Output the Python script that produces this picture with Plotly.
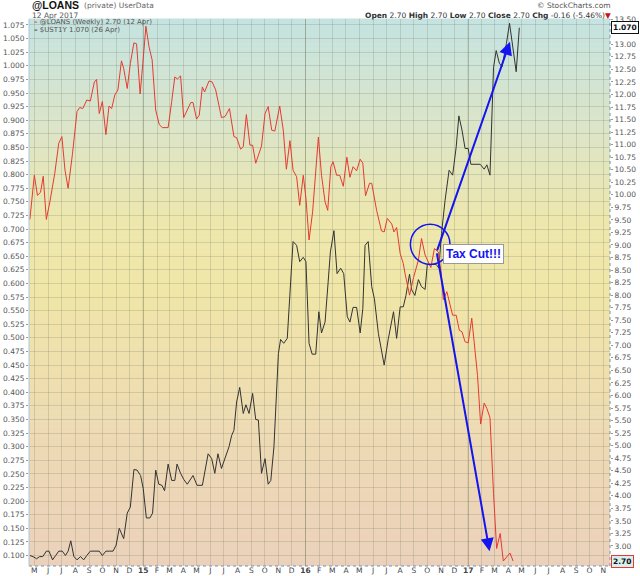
import pandas as pd
import plotly.graph_objects as go

# @LOANS weekly (right axis)
loans_dates = [
    "2014-04-21", "2014-05-01", "2014-05-08", "2014-05-15", "2014-05-21", "2014-05-28",
    "2014-06-05", "2014-06-16", "2014-06-25", "2014-07-02", "2014-07-09", "2014-07-16",
    "2014-07-26", "2014-08-05", "2014-08-11", "2014-08-18", "2014-08-27", "2014-09-04",
    "2014-09-13", "2014-09-18", "2014-09-24", "2014-10-01", "2014-10-09", "2014-10-16",
    "2014-10-22", "2014-10-29", "2014-11-05", "2014-11-13", "2014-11-18", "2014-11-26",
    "2014-12-03", "2014-12-11", "2014-12-17", "2014-12-25", "2014-12-31", "2015-01-07",
    "2015-01-14", "2015-01-21", "2015-01-29", "2015-02-06", "2015-02-13", "2015-02-26",
    "2015-03-06", "2015-03-13", "2015-03-19", "2015-03-26", "2015-04-02", "2015-04-10",
    "2015-04-18", "2015-04-23", "2015-05-01", "2015-05-07", "2015-05-14", "2015-05-19",
    "2015-05-29", "2015-06-05", "2015-06-13", "2015-06-26", "2015-07-04", "2015-07-14",
    "2015-07-24", "2015-07-30", "2015-08-08", "2015-08-14", "2015-08-21", "2015-08-29",
    "2015-09-04", "2015-09-11", "2015-09-24", "2015-10-02", "2015-10-09", "2015-10-17",
    "2015-10-24", "2015-11-04", "2015-11-12", "2015-11-19", "2015-11-27", "2015-12-04",
    "2015-12-12", "2015-12-19", "2015-12-27", "2016-01-02", "2016-01-09", "2016-01-17",
    "2016-01-30", "2016-02-06", "2016-02-14", "2016-02-20", "2016-02-27", "2016-03-03",
    "2016-03-11", "2016-03-18", "2016-03-26", "2016-04-03", "2016-04-10", "2016-04-17",
    "2016-04-25", "2016-05-03", "2016-05-09", "2016-05-15", "2016-05-24", "2016-05-29",
    "2016-06-09", "2016-06-20", "2016-06-26", "2016-07-03", "2016-07-13", "2016-07-18",
    "2016-07-24", "2016-08-01", "2016-08-08", "2016-08-12", "2016-08-22", "2016-08-31",
    "2016-09-11", "2016-09-18", "2016-09-26", "2016-10-09", "2016-10-17", "2016-10-26",
    "2016-11-01", "2016-11-06", "2016-11-14", "2016-11-27", "2016-12-05", "2016-12-12",
    "2016-12-18", "2016-12-25", "2017-01-01", "2017-01-09", "2017-01-16", "2017-01-22",
    "2017-01-29", "2017-02-06", "2017-02-12", "2017-02-19", "2017-02-27", "2017-03-06",
    "2017-03-14", "2017-03-21", "2017-04-05", "2017-04-12",
]
loans_vals = [
    9.51, 10.39, 9.99, 10.05, 10.37, 9.51,
    9.86, 10.43, 11.03, 11.16, 10.49, 10.13,
    10.83, 11.66, 11.74, 11.72, 11.89, 11.87,
    12.25, 12.30, 11.62, 11.86, 11.20, 11.77,
    11.72, 11.99, 12.09, 12.67, 12.52, 12.12,
    12.62, 13.03, 13.01, 12.01, 12.62, 13.36,
    12.95, 12.69, 11.69, 11.40, 11.34, 11.34,
    11.86, 12.35, 12.31, 12.37, 11.54, 11.69,
    11.84, 11.84, 11.51, 11.59, 12.15, 12.05,
    12.27, 12.25, 12.09, 11.54, 11.56, 11.72,
    11.16, 11.14, 10.91, 10.96, 11.60, 10.99,
    10.99, 10.63, 10.97, 11.62, 11.76, 11.29,
    11.27, 11.77, 11.29, 10.51, 11.08, 10.49,
    10.36, 9.79, 10.39, 9.93, 9.10, 9.66,
    11.15, 10.39, 9.86, 9.69, 10.56, 10.66,
    10.39, 10.39, 10.17, 10.75, 10.35, 10.56,
    10.48, 10.71, 10.63, 9.98, 10.23, 10.23,
    9.69, 9.28, 9.26, 9.53, 9.42, 9.26,
    9.35, 8.83, 8.63, 8.43, 8.00, 8.35,
    8.70, 9.13, 8.80, 8.55, 8.93, 8.86,
    8.45, 7.91, 8.07, 7.60, 7.60, 7.30,
    7.27, 7.07, 7.05, 7.54, 6.90, 6.40,
    5.43, 5.85, 5.74, 5.56, 4.05, 2.95,
    3.25, 2.70, 2.86, 2.70,
]

# $UST1Y (left axis)
ust_dates = [
    "2014-04-21", "2014-04-28", "2014-05-06", "2014-05-13", "2014-05-20", "2014-05-28",
    "2014-06-03", "2014-06-11", "2014-06-18", "2014-06-25", "2014-07-03", "2014-07-10",
    "2014-07-16", "2014-07-22", "2014-07-29", "2014-08-05", "2014-08-13", "2014-08-20",
    "2014-08-27", "2014-09-04", "2014-09-14", "2014-09-24", "2014-10-01", "2014-10-09",
    "2014-10-18", "2014-10-25", "2014-11-01", "2014-11-08", "2014-11-18", "2014-11-26",
    "2014-12-03", "2014-12-11", "2014-12-18", "2014-12-26", "2015-01-01", "2015-01-08",
    "2015-01-16", "2015-01-22", "2015-01-29", "2015-02-05", "2015-02-12", "2015-02-18",
    "2015-02-26", "2015-03-06", "2015-03-13", "2015-03-18", "2015-03-26", "2015-04-02",
    "2015-04-10", "2015-04-16", "2015-04-23", "2015-05-02", "2015-05-14", "2015-05-27",
    "2015-06-04", "2015-06-11", "2015-06-18", "2015-06-26", "2015-07-07", "2015-07-13",
    "2015-07-19", "2015-07-24", "2015-07-30", "2015-08-06", "2015-08-14", "2015-08-20",
    "2015-08-27", "2015-09-04", "2015-09-11", "2015-09-17", "2015-09-24", "2015-10-02",
    "2015-10-09", "2015-10-15", "2015-10-22", "2015-11-01", "2015-11-06", "2015-11-13",
    "2015-11-21", "2015-11-27", "2015-12-04", "2015-12-12", "2015-12-19", "2015-12-27",
    "2016-01-02", "2016-01-09", "2016-01-16", "2016-01-24", "2016-01-31", "2016-02-06",
    "2016-02-14", "2016-02-21", "2016-02-26", "2016-03-05", "2016-03-12", "2016-03-20",
    "2016-03-27", "2016-04-04", "2016-04-10", "2016-04-17", "2016-04-25", "2016-05-03",
    "2016-05-09", "2016-05-14", "2016-05-21", "2016-05-29", "2016-06-04", "2016-06-13",
    "2016-06-26", "2016-07-05", "2016-07-17", "2016-07-24", "2016-08-01", "2016-08-08",
    "2016-08-14", "2016-08-22", "2016-08-27", "2016-09-03", "2016-09-11", "2016-09-18",
    "2016-09-26", "2016-10-01", "2016-10-13", "2016-10-21", "2016-10-27", "2016-11-02",
    "2016-11-10", "2016-11-19", "2016-11-27", "2016-12-05", "2016-12-11", "2016-12-18",
    "2016-12-25", "2017-01-01", "2017-01-07", "2017-01-16", "2017-01-28", "2017-02-06",
    "2017-02-12", "2017-02-19", "2017-02-27", "2017-03-05", "2017-03-12", "2017-03-18",
    "2017-03-23", "2017-03-28", "2017-04-04", "2017-04-11", "2017-04-19", "2017-04-26",
]
ust_vals = [
    0.100, 0.098, 0.094, 0.098, 0.098, 0.108,
    0.108, 0.092, 0.100, 0.108, 0.108, 0.100,
    0.108, 0.127, 0.098, 0.092, 0.098, 0.092,
    0.100, 0.108, 0.108, 0.108, 0.100, 0.108,
    0.108, 0.108, 0.119, 0.150, 0.131, 0.178,
    0.189, 0.258, 0.257, 0.247, 0.223, 0.169,
    0.169, 0.178, 0.257, 0.231, 0.229, 0.219,
    0.268, 0.238, 0.238, 0.268, 0.251, 0.240,
    0.231, 0.238, 0.247, 0.229, 0.229, 0.287,
    0.278, 0.251, 0.287, 0.260, 0.287, 0.300,
    0.321, 0.330, 0.382, 0.409, 0.361, 0.377,
    0.361, 0.398, 0.350, 0.349, 0.251, 0.278,
    0.231, 0.238, 0.300, 0.471, 0.497, 0.490,
    0.499, 0.575, 0.677, 0.670, 0.640, 0.648,
    0.640, 0.490, 0.470, 0.470, 0.548, 0.509,
    0.529, 0.603, 0.658, 0.697, 0.618, 0.628,
    0.618, 0.539, 0.529, 0.556, 0.556, 0.509,
    0.554, 0.670, 0.677, 0.594, 0.572, 0.508,
    0.450, 0.497, 0.548, 0.499, 0.557, 0.557,
    0.578, 0.617, 0.588, 0.578, 0.607, 0.594,
    0.589, 0.635, 0.635, 0.635, 0.628, 0.692,
    0.753, 0.808, 0.799, 0.851, 0.908, 0.882,
    0.848, 0.848, 0.819, 0.819, 0.819, 0.810,
    0.818, 0.799, 0.997, 1.028, 1.005, 0.998,
    1.017, 1.041, 1.078, 1.035, 0.989, 1.070,
]

month_letters = ["J", "F", "M", "A", "M", "J", "J", "A", "S", "O", "N", "D"]
tick_dates = pd.date_range("2014-05-01", "2017-11-01", freq="MS")
tick_text = ["<b>%s</b>" % d.strftime("%y") if d.month == 1 else month_letters[d.month - 1]
             for d in tick_dates]
year_starts = ["2015-01-01", "2016-01-01", "2017-01-01"]

RED = "#e63a30"
BLACK = "#333333"
BLUE = "#1414f0"
GRID = "rgba(110,115,90,0.22)"

# plot area in pixels (left, right, top, bottom)
PL, PR, PT, PB = 29.3, 610.0, 19.0, 565.7


def px(x, y):
    return (x - PL) / (PR - PL), (PB - y) / (PB - PT)


fig = go.Figure()
fig.add_trace(go.Scatter(x=ust_dates, y=ust_vals, mode="lines", yaxis="y",
                         line=dict(color=BLACK, width=1), name="$UST1Y"))
fig.add_trace(go.Scatter(x=loans_dates, y=loans_vals, mode="lines", yaxis="y2",
                         line=dict(color=RED, width=1), name="@LOANS"))

# vertical background gradient teal -> yellow -> peach
stops = [(0.0, (235, 209, 187)), (0.28, (238, 220, 178)), (0.5, (240, 230, 168)),
         (0.62, (238, 231, 172)), (0.8, (220, 229, 200)), (1.0, (196, 227, 225))]
shapes = []
N = 110
for i in range(N):
    t = (i + 0.5) / N
    for (a, ca), (b, cb) in zip(stops[:-1], stops[1:]):
        if a <= t <= b:
            f = (t - a) / (b - a)
            c = tuple(int(round(ca[k] + (cb[k] - ca[k]) * f)) for k in range(3))
            break
    shapes.append(dict(type="rect", xref="paper", yref="paper", x0=0, x1=1,
                       y0=i / N, y1=(i + 1) / N + 0.001, layer="below",
                       line=dict(width=0), fillcolor="rgb(%d,%d,%d)" % c))
for d in year_starts:
    shapes.append(dict(type="line", xref="x", yref="paper", x0=d, x1=d, y0=0, y1=1,
                       layer="below", line=dict(color="rgba(100,110,80,0.35)", width=1)))
# frame
shapes.append(dict(type="line", xref="paper", yref="paper", x0=0, x1=1, y0=0, y1=0,
                   line=dict(color="#6f93b0", width=1, dash="dot")))
shapes.append(dict(type="line", xref="paper", yref="paper", x0=1, x1=1, y0=0, y1=1,
                   line=dict(color="#6f93b0", width=1, dash="dot")))
shapes.append(dict(type="line", xref="paper", yref="paper", x0=0, x1=0, y0=0, y1=1,
                   line=dict(color="#a9c6dc", width=1)))
# circle
shapes.append(dict(type="circle", xref="x", yref="y", x0="2016-08-24", x1="2016-11-21",
                   y0=0.635, y1=0.709, line=dict(color=BLUE, width=1.5)))

ann = []
# arrows
ann.append(dict(x="2017-04-05", y=1.044, ax="2016-10-22", ay=0.658, xref="x", yref="y",
                axref="x", ayref="y", text="", showarrow=True, arrowhead=2, arrowsize=1.3,
                arrowwidth=2, arrowcolor=BLUE))
ann.append(dict(x="2017-02-18", y=0.108, ax="2016-10-22", ay=0.658, xref="x", yref="y",
                axref="x", ayref="y", text="", showarrow=True, arrowhead=2, arrowsize=1.3,
                arrowwidth=2, arrowcolor=BLUE))
ann.append(dict(x="2017-01-12", y=0.654, xref="x", yref="y", text="<b>Tax Cut!!!</b>",
                showarrow=False, font=dict(family="Liberation Sans", size=12, color=BLUE),
                bgcolor="white", bordercolor="#999999", borderwidth=1, borderpad=2))

# header
hx, hy = px(30, 5.5)
ann.append(dict(x=hx, y=hy, xref="paper", yref="paper", xanchor="left", yanchor="middle",
                text="<b>@LOANS</b>", showarrow=False,
                font=dict(family="Liberation Sans", size=10.5, color="#111111")))
hx, hy = px(82, 6)
ann.append(dict(x=hx, y=hy, xref="paper", yref="paper", xanchor="left", yanchor="middle",
                text="(private) UserData", showarrow=False,
                font=dict(size=7.5, color="#666666")))
hx, hy = px(30, 15.5)
ann.append(dict(x=hx, y=hy, xref="paper", yref="paper", xanchor="left", yanchor="middle",
                text="12 Apr 2017", showarrow=False, font=dict(size=7.5, color="#555555")))
hx, hy = px(613, 6)
ann.append(dict(x=hx, y=hy, xref="paper", yref="paper", xanchor="right", yanchor="middle",
                text="© StockCharts.com", showarrow=False, font=dict(size=7.5, color="#555555")))
hx, hy = px(613, 15.5)
ann.append(dict(x=hx, y=hy, xref="paper", yref="paper", xanchor="right", yanchor="middle",
                text="<b>Open</b> 2.70 <b>High</b> 2.70 <b>Low</b> 2.70 <b>Close</b> 2.70 "
                     "<b>Chg</b> -0.16 (-5.46%)<span style='color:#d01010'>▼</span>",
                showarrow=False, font=dict(size=7.5, color="#333333")))

# legend lines
hx, hy = px(32, 22)
ann.append(dict(x=hx, y=hy, xref="paper", yref="paper", xanchor="left", yanchor="middle",
                text="<span style='color:%s'><b>–</b></span> @LOANS (Weekly) 2.70 (12 Apr)" % RED,
                showarrow=False, font=dict(size=7, color="#555555")))
hx, hy = px(32, 30)
ann.append(dict(x=hx, y=hy, xref="paper", yref="paper", xanchor="left", yanchor="middle",
                text="<span style='color:%s'><b>–</b></span> $UST1Y 1.070 (26 Apr)" % BLACK,
                showarrow=False, font=dict(size=7, color="#555555")))

# last value tags on the right
ann.append(dict(x=1, y=1.070, xref="paper", yref="y", xanchor="left", yanchor="middle",
                xshift=1, text="<b>1.070</b>", showarrow=False, bgcolor="white",
                bordercolor="#111111", borderwidth=1, borderpad=1,
                font=dict(size=7.5, color="#111111")))
ann.append(dict(x=1, y=2.70, xref="paper", yref="y2", xanchor="left", yanchor="middle",
                xshift=1, text="<b>2.70</b>", showarrow=False, bgcolor="#d6eeee",
                bordercolor=RED, borderwidth=1, borderpad=1,
                font=dict(size=7.5, color="#111111")))

fig.update_layout(
    width=640, height=576,
    margin=dict(l=PL, r=640 - PR, t=PT, b=576 - PB, pad=0),
    paper_bgcolor="white", plot_bgcolor="rgba(0,0,0,0)",
    showlegend=False,
    font=dict(family="DejaVu Sans", size=7.5, color="#555555"),
    xaxis=dict(type="date", range=["2014-04-19", "2017-11-16"], tickmode="array",
               tickvals=tick_dates, ticktext=tick_text, showgrid=True, gridcolor=GRID,
               gridwidth=1, ticks="", showline=False, zeroline=False, automargin=False,
               ticklabelstandoff=-2, tickfont=dict(size=7.5, color="#444444")),
    yaxis=dict(range=[0.0807, 1.086], tick0=0, dtick=0.025, tickformat=".3f",
               showgrid=True, gridcolor=GRID, gridwidth=1, zeroline=False,
               ticks="outside", ticklen=2, tickcolor="#999999", automargin=False,
               tickfont=dict(size=7.5, color="#555555")),
    yaxis2=dict(range=[2.601, 13.505], tick0=0, dtick=0.25, tickformat=".2f",
                overlaying="y", side="right", showgrid=False, zeroline=False,
                ticks="outside", ticklen=2, tickcolor="#999999", automargin=False,
                tickfont=dict(size=7.5, color="#555555")),
    shapes=shapes,
    annotations=ann,
)

# page body has an 8px default margin; drop it so the figure sits at the corner
fig.write_html("out.html", config={"displayModeBar": False},
               post_script="document.body.style.margin='0px';")
